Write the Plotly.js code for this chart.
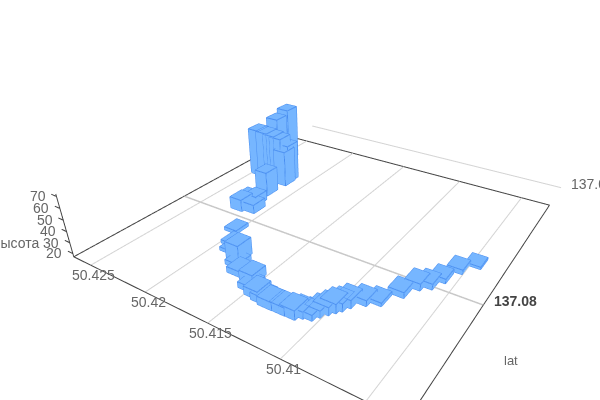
<!DOCTYPE html>
<html><head><meta charset="utf-8">
<script src="https://cdn.plot.ly/plotly-3.0.1.min.js"></script>
<style>html,body{margin:0;padding:0;background:#fff;width:600px;height:400px;overflow:hidden}#c{width:650px;height:470px}</style>
</head><body><div id="c"></div>
<script>
const lat=[137.08225,137.08159,137.08075,137.08018,137.07990,137.07924,137.07844,137.07817,137.07780,137.07752,137.07731,137.07710,137.07687,137.07660,137.07652,137.07634,137.07632,137.07640,137.07630,137.07638,137.07647,137.07666,137.07704,137.07711,137.07746,137.07778,137.07804,137.07844,137.07924,137.08088,137.08141,137.08074,137.08129,137.08241,137.08385,137.08379,137.08380,137.08379,137.08397,137.08364,137.08512,137.08596];
const lon=[50.40479,50.40553,50.40604,50.40645,50.40701,50.40750,50.40823,50.40895,50.40958,50.40983,50.41006,50.41030,50.41058,50.41081,50.41133,50.41166,50.41234,50.41279,50.41323,50.41385,50.41448,50.41520,50.41566,50.41680,50.41747,50.41785,50.41884,50.41935,50.42027,50.42106,50.42161,50.42199,50.42222,50.42191,50.42450,50.42368,50.42298,50.42235,50.42188,50.42176,50.42440,50.42440];
const height=[19,21,21,22,23,22,20,22,24,24,25,24,23,22,23,25,24,22,24,23,24,22,25,22,21,32,20,20,20,25,26,28,25,40,63,63,62,61,54,51,66,70];
const lonTicks=[50.405,50.41,50.415,50.42,50.425];
const latTicks=[137.08,137.09];
const heightTicks=[20,30,40,50,60,70];
const xFloor=[137.07435,137.08805], yFloor=[50.4029,50.4267], zFloor=[17,72];
const barDx=0.00037, barDy=0.00052;

const vx=[],vy=[],vz=[],fi=[],fj=[],fk=[],ex=[],ey=[],ez=[];
const faces=[[0,1,2],[0,2,3],[4,5,6],[4,6,7],[0,1,5],[0,5,4],[1,2,6],[1,6,5],[2,3,7],[2,7,6],[3,0,4],[3,4,7]];
lat.forEach((la,n)=>{
  const b=vx.length,lo=lon[n],t=height[n];
  const X=[la-barDx,la+barDx,la+barDx,la-barDx],Y=[lo-barDy,lo-barDy,lo+barDy,lo+barDy];
  for(const z of [zFloor[0],t]) for(let q=0;q<4;q++){vx.push(X[q]);vy.push(Y[q]);vz.push(z);}
  faces.forEach(f=>{fi.push(b+f[0]);fj.push(b+f[1]);fk.push(b+f[2]);});
  for(const z of [zFloor[0],t]){for(const q of [0,1,2,3,0]){ex.push(X[q]);ey.push(Y[q]);ez.push(z);}ex.push(null);ey.push(null);ez.push(null);}
  for(let q=0;q<4;q++){ex.push(X[q],X[q],null);ey.push(Y[q],Y[q],null);ez.push(zFloor[0],t,null);}
});
const line3=(x,y,z,color,width)=>({type:'scatter3d',mode:'lines',x,y,z,line:{color,width},hoverinfo:'skip',showlegend:false});
const z0=zFloor[0], traces=[];
lonTicks.forEach(t=>traces.push(line3(xFloor,[t,t],[z0,z0],'#d4d4d4',2)));
traces.push(line3([latTicks[0],latTicks[0]],yFloor,[z0,z0],'#c8c8c8',3));
traces.push(line3([latTicks[1],latTicks[1]],yFloor,[z0,z0],'#d4d4d4',2));
traces.push(line3([xFloor[0],xFloor[0],xFloor[1],xFloor[1],xFloor[0]],[yFloor[1],yFloor[0],yFloor[0],yFloor[1],yFloor[1]],[z0,z0,z0,z0,z0],'#444444',2));
traces.push(line3([xFloor[0],xFloor[0]],[yFloor[1],yFloor[1]],zFloor,'#444444',2));
heightTicks.forEach(t=>traces.push(line3([xFloor[0],xFloor[0]],[yFloor[1],yFloor[1]+0.0005],[t,t],'#444444',2)));
traces.push({type:'mesh3d',x:vx,y:vy,z:vz,i:fi,j:fj,k:fk,color:'#76b6ff',flatshading:true,
  lighting:{ambient:1,diffuse:0,specular:0,fresnel:0,roughness:1},hoverinfo:'skip',showscale:false});
traces.push(line3(ex,ey,ez,'#4a8ef0',2));

const tickFont={family:'Arial, Liberation Sans, sans-serif',size:14,color:'#666666'};
const ann=[];
lonTicks.forEach(t=>ann.push({x:xFloor[0],y:t,z:z0,text:String(t),showarrow:false,font:tickFont,xanchor:'center',yanchor:'middle',xshift:3,yshift:-10}));
ann.push({x:latTicks[0],y:yFloor[0],z:z0,text:'<b>'+latTicks[0]+'</b>',showarrow:false,font:{...tickFont,color:'#444'},xanchor:'left',yanchor:'middle',xshift:9,yshift:4});
ann.push({x:latTicks[1],y:yFloor[0],z:z0,text:String(latTicks[1]),showarrow:false,font:tickFont,xanchor:'left',yanchor:'middle',xshift:8,yshift:4});
heightTicks.forEach(t=>ann.push({x:xFloor[0],y:yFloor[1],z:t,text:String(t),showarrow:false,font:tickFont,xanchor:'right',yanchor:'middle',xshift:-9,yshift:0}));

const hidden=r=>({visible:false,range:r,showspikes:false});
const layout={width:650,height:470,margin:{l:0,r:0,t:0,b:0},paper_bgcolor:'#fff',showlegend:false,
 annotations:[
  {xref:'paper',yref:'paper',x:511/650,y:1-360/470,text:'lat',showarrow:false,font:{...tickFont,size:13},xanchor:'center',yanchor:'middle'},
  {xref:'paper',yref:'paper',x:41/650,y:1-243/470,text:'высота',showarrow:false,font:{...tickFont,size:14},xanchor:'right',yanchor:'middle'}],
 scene:{domain:{x:[0,1],y:[0,1]},bgcolor:'#fff',
  xaxis:hidden([137.07255,137.09205]),yaxis:hidden([50.401,50.4285]),zaxis:hidden([15,75]),
  aspectmode:'manual',aspectratio:{x:1.423,y:1.155,z:0.21},
  camera:{eye:{x:-1.266,y:-0.765,z:0.7734},center:{x:-0.0947,y:0.0066,z:-0.1126},up:{x:0,y:0,z:1},projection:{type:'perspective'}},
  annotations:ann}};
Plotly.newPlot('c',traces,layout,{displayModeBar:false});
</script></body></html>
